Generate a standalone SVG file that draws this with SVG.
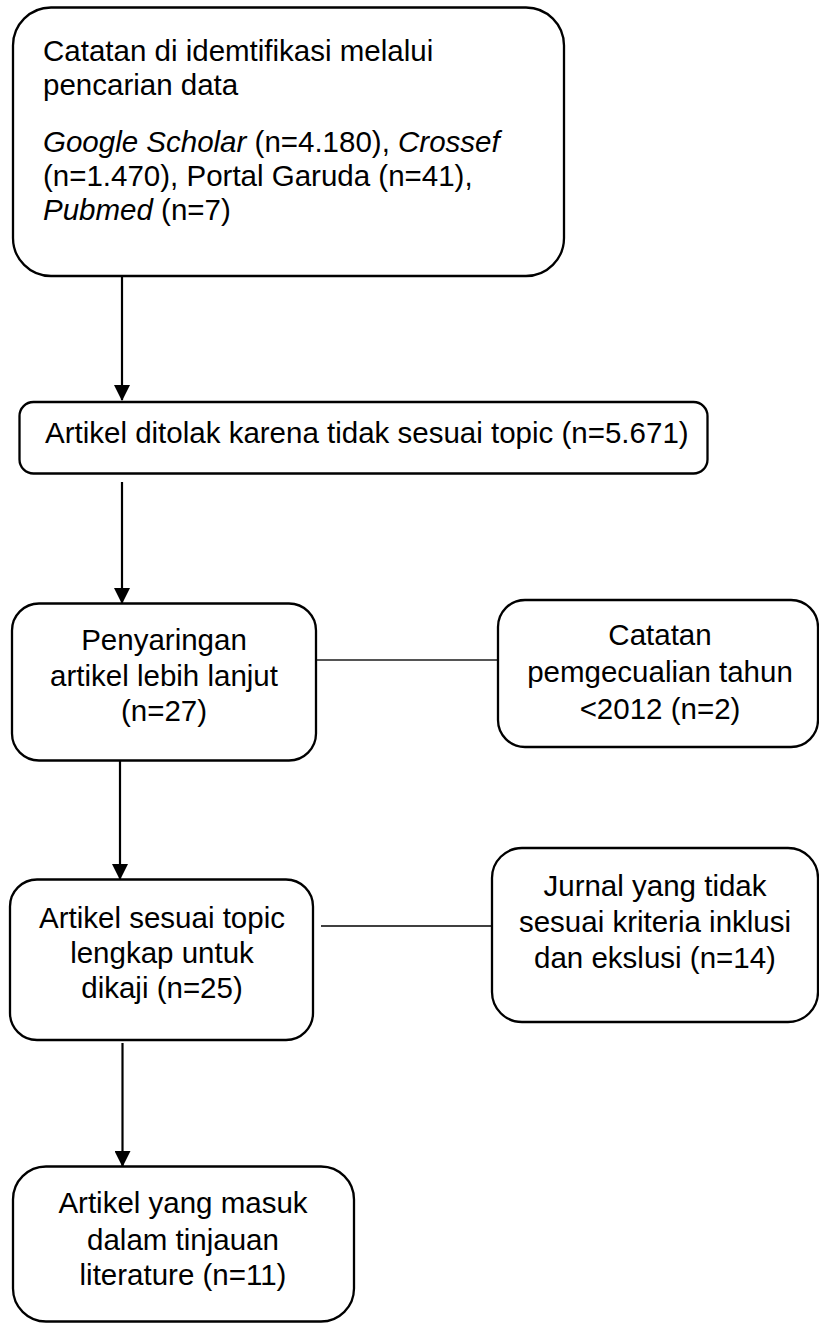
<svg xmlns="http://www.w3.org/2000/svg" width="819" height="1324" viewBox="0 0 819 1324">
<style>
.box{fill:#fff;stroke:#000;stroke-width:2.3}
.t{font-family:"Liberation Sans",Arial,sans-serif;font-size:29.5px;fill:#000}
.c{text-anchor:middle}
.i{font-style:italic}
.arr{stroke:#000;stroke-width:2.2;fill:none}
</style>
<defs>
<marker id="ah" viewBox="0 0 16 16" refX="15" refY="8" markerWidth="16" markerHeight="16" markerUnits="userSpaceOnUse" orient="auto">
<path d="M0,0 L16,8 L0,16 z" fill="#000"/>
</marker>
</defs>
<rect width="819" height="1324" fill="#fff"/>
<g id="connectors">
<line class="arr" x1="122" y1="277" x2="122" y2="400" marker-end="url(#ah)"/>
<line class="arr" x1="122" y1="482" x2="122" y2="603" marker-end="url(#ah)"/>
<line class="arr" x1="120" y1="761" x2="120" y2="879" marker-end="url(#ah)"/>
<line class="arr" x1="122.5" y1="1043" x2="122.5" y2="1166" marker-end="url(#ah)"/>
<line x1="317" y1="660" x2="498" y2="660" stroke="#555" stroke-width="1.8"/>
<line x1="321" y1="926" x2="492" y2="926" stroke="#000" stroke-width="1.4"/>
</g>
<g id="n1">
<rect class="box" x="13" y="7.5" width="551" height="268.5" rx="38"/>
<text class="t" x="43" y="61">Catatan di idemtifikasi melalui</text>
<text class="t" x="43" y="95">pencarian data</text>
<text class="t" x="43" y="152"><tspan class="i">Google Scholar</tspan> (n=4.180), <tspan class="i">Crossef</tspan></text>
<text class="t" x="43" y="186">(n=1.470), Portal Garuda (n=41),</text>
<text class="t" x="43" y="220"><tspan class="i">Pubmed</tspan> (n=7)</text>
</g>
<g id="n2">
<rect class="box" x="19.5" y="402" width="688" height="71.5" rx="14"/>
<text class="t" x="45" y="443">Artikel ditolak karena tidak sesuai topic (n=5.671)</text>
</g>
<g id="n3">
<rect class="box" x="12" y="603.5" width="304" height="157" rx="27"/>
<text class="t c" x="164" y="650">Penyaringan</text>
<text class="t c" x="164" y="686">artikel lebih lanjut</text>
<text class="t c" x="164" y="721">(n=27)</text>
</g>
<g id="n4">
<rect class="box" x="498" y="600" width="320" height="147" rx="27"/>
<text class="t c" x="660" y="645">Catatan</text>
<text class="t c" x="660" y="682">pemgecualian tahun</text>
<text class="t c" x="660" y="719">&lt;2012 (n=2)</text>
</g>
<g id="n5">
<rect class="box" x="10" y="879.5" width="303" height="160.5" rx="27"/>
<text class="t c" x="162" y="928">Artikel sesuai topic</text>
<text class="t c" x="162" y="963">lengkap untuk</text>
<text class="t c" x="162" y="998">dikaji (n=25)</text>
</g>
<g id="n6">
<rect class="box" x="492" y="848" width="326" height="174" rx="30"/>
<text class="t c" x="655" y="896">Jurnal yang tidak</text>
<text class="t c" x="655" y="932">sesuai kriteria inklusi</text>
<text class="t c" x="655" y="968">dan ekslusi (n=14)</text>
</g>
<g id="n7">
<rect class="box" x="13" y="1166.5" width="341" height="155" rx="33"/>
<text class="t c" x="183" y="1213">Artikel yang masuk</text>
<text class="t c" x="183" y="1250">dalam tinjauan</text>
<text class="t c" x="183" y="1285">literature (n=11)</text>
</g>
</svg>
